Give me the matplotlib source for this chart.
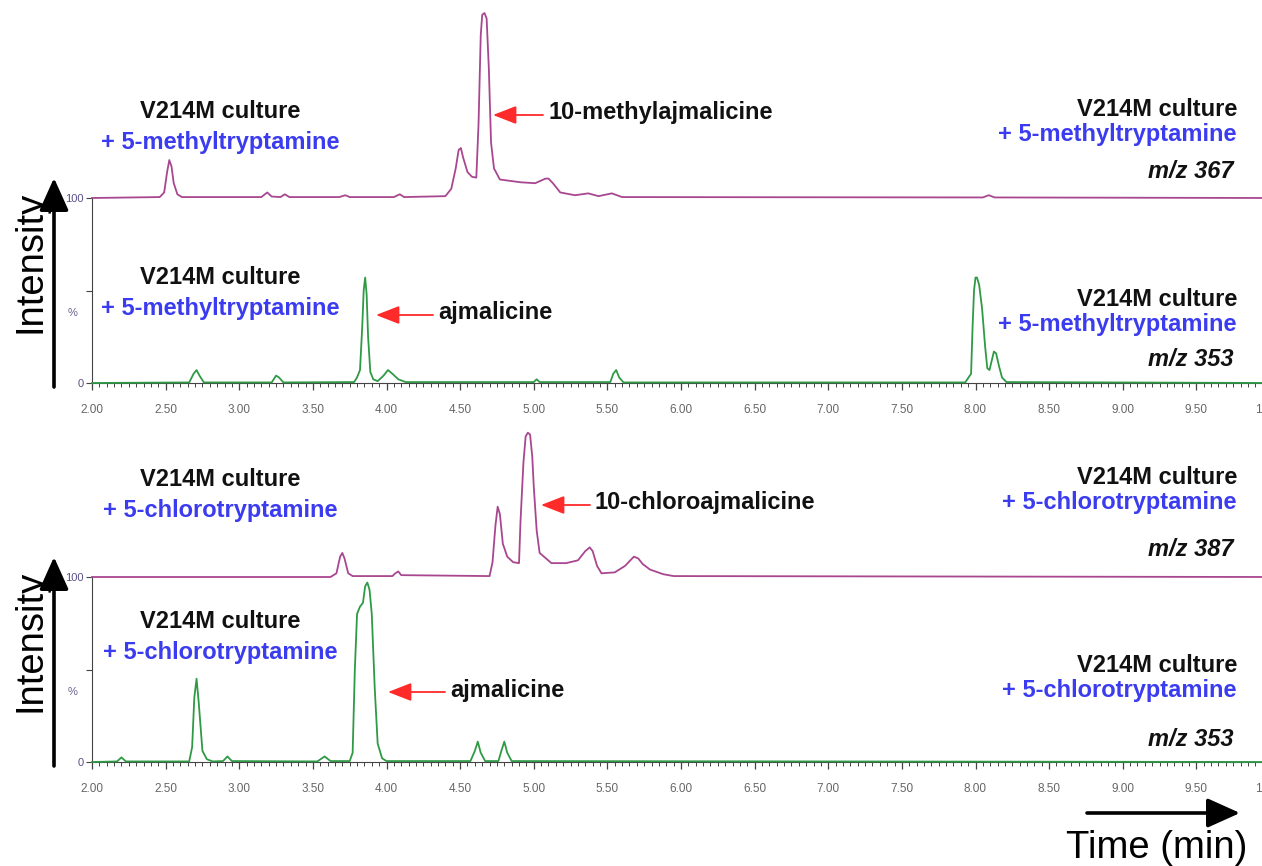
import numpy as np
import matplotlib
matplotlib.use("Agg")
import matplotlib.pyplot as plt
from matplotlib.ticker import MultipleLocator, FormatStrFormatter

plt.rcParams['font.family'] = ['Liberation Sans', 'DejaVu Sans']

# ---- data (time in min, intensity in % of panel scale) ----
# panel 1: V214M culture + 5-methyltryptamine
t_367 = [2.00, 2.46, 2.49, 2.51, 2.525, 2.54, 2.555, 2.58, 2.61, 3.15, 3.19, 3.22, 3.28, 3.31, 3.34,
         3.68, 3.72, 3.75, 4.05, 4.09, 4.12, 4.40, 4.44, 4.47, 4.49, 4.505, 4.52, 4.55, 4.58, 4.61, 4.625,
         4.64, 4.65, 4.665, 4.68, 4.695, 4.71, 4.73, 4.77, 4.91, 5.01, 5.08, 5.10, 5.13, 5.18, 5.28, 5.37,
         5.44, 5.53, 5.60, 8.05, 8.09, 8.13, 10.00]
y_367 = [0.0, 0.5, 3, 14, 20.5, 17, 8, 2, 0.5, 0.5, 3, 0.8, 0.5, 2, 0.5,
         0.5, 1.5, 0.5, 0.5, 2, 0.5, 1, 5, 16, 26, 27, 22, 14, 11.5, 11, 40,
         88, 99, 100, 97, 70, 30, 16, 10, 8.5, 8, 10.5, 10.5, 8, 3, 1.5, 2.5,
         1, 2.5, 0.5, 0.3, 1.5, 0.3, 0.0]

t_353a = [2.00, 2.66, 2.69, 2.71, 2.73, 2.76, 3.22, 3.25, 3.27, 3.30, 3.78, 3.80, 3.82, 3.835,
          3.845, 3.855, 3.865, 3.875, 3.89, 3.91, 3.94, 3.98, 4.01, 4.04, 4.08, 4.13, 5.00, 5.02,
          5.04, 5.52, 5.54, 5.56, 5.58, 5.61, 7.93, 7.97, 7.98, 7.99, 8.00, 8.01, 8.025, 8.045,
          8.065, 8.08, 8.095, 8.11, 8.125, 8.14, 8.16, 8.18, 8.21, 10.00]
y_353a = [0.0, 0.3, 5, 7, 4, 0.3, 0.3, 4, 3, 0.3, 0.5, 3, 7, 30,
          50, 57, 48, 25, 6, 2, 1, 4, 7, 5, 2, 0.5, 0.5, 2,
          0.5, 0.5, 5, 7, 3, 0.3, 0.3, 5, 30, 50, 57, 57, 53, 40,
          20, 8, 7, 12, 17, 16, 9, 3, 0.5, 0.0]

# panel 2: V214M culture + 5-chlorotryptamine
t_387 = [2.00, 3.62, 3.66, 3.685, 3.70, 3.715, 3.74, 3.77, 4.04, 4.06, 4.08, 4.10, 4.70, 4.72,
         4.74, 4.755, 4.77, 4.79, 4.82, 4.86, 4.90, 4.91, 4.93, 4.945, 4.96, 4.975, 4.99, 5.00,
         5.02, 5.04, 5.12, 5.22, 5.30, 5.35, 5.38, 5.40, 5.43, 5.46, 5.55, 5.62, 5.68, 5.71,
         5.74, 5.79, 5.88, 5.95, 10.00]
y_387 = [0.0, 0.0, 2, 11, 13, 10, 2, 0.5, 0.5, 2, 3, 1, 0.5, 8,
         28, 38, 34, 18, 11, 8, 7.5, 30, 62, 76, 78, 77, 65, 49,
         25, 13, 7.5, 7.5, 9, 14, 16, 14, 6, 2, 2.5, 6, 11, 10,
         7, 4, 1.5, 0.5, 0.0]

t_353b = [2.00, 2.17, 2.20, 2.23, 2.66, 2.68, 2.695, 2.71, 2.725, 2.75, 2.78, 2.82, 2.89, 2.92,
          2.95, 3.53, 3.58, 3.62, 3.75, 3.77, 3.785, 3.80, 3.82, 3.84, 3.855, 3.87, 3.885, 3.90,
          3.92, 3.94, 3.97, 4.00, 4.57, 4.60, 4.62, 4.64, 4.67, 4.76, 4.78, 4.80, 4.82, 4.85, 10.00]
y_353b = [0.0, 0.3, 2.5, 0.3, 0.3, 8, 35, 45, 32, 6, 1.5, 0.3, 0.5, 3,
          0.5, 0.3, 3, 0.5, 0.5, 5, 50, 80, 84, 86, 95, 97, 93, 80,
          40, 10, 2, 0.5, 0.5, 6, 11, 5, 0.5, 0.5, 6, 11, 5, 0.5, 0.0]

tick_times = np.arange(2.0, 10.01, 0.5)

MAGENTA = '#a8478f'
GREEN = '#2f9a45'
BLUE = '#3b3bef'
RED = '#ff2a2a'

W, H = 1262, 866
fig = plt.figure(figsize=(W / 100, H / 100), dpi=100)

PX_PER_UNIT = 1.85   # pixels per % unit


def make_panel(y_bottom, y_top):
    ax = fig.add_axes([92 / W, 1 - y_bottom / H, (1270 - 92) / W, (y_bottom - y_top) / H])
    ax.set_xlim(2.0, 10.0)
    ax.set_ylim(0, (y_bottom - y_top) / PX_PER_UNIT)
    ax.patch.set_alpha(0)
    for s in ['top', 'right']:
        ax.spines[s].set_visible(False)
    ax.spines['left'].set_bounds(0, 100)
    ax.spines['left'].set_color('#444444')
    ax.spines['bottom'].set_color('#444444')
    ax.set_yticks([0, 50, 100])
    ax.set_yticklabels(['0', '', '100'])
    ax.tick_params(axis='y', length=4, width=0.8, colors='#444444', labelsize=8,
                   labelcolor='#5a4f86', pad=2)
    ax.text(-0.012, 38, '%', transform=ax.get_yaxis_transform(), ha='right', va='center',
            fontsize=8, color='#6a6090')
    ax.set_xticks(tick_times)
    ax.xaxis.set_major_formatter(FormatStrFormatter('%.2f'))
    ax.xaxis.set_minor_locator(MultipleLocator(0.05))
    ax.tick_params(axis='x', which='major', length=5, width=0.9, colors='#444444',
                   labelsize=8.5, labelcolor='#666666', pad=10)
    ax.tick_params(axis='x', which='minor', length=3, width=0.7, colors='#444444')
    return ax


ax1 = make_panel(383, 0)
ax1.plot(t_353a, y_353a, color=GREEN, lw=1.3, clip_on=False, zorder=3)
ax1.plot(t_367, np.array(y_367) + 100, color=MAGENTA, lw=1.3, clip_on=False, zorder=3)

ax2 = make_panel(762, 410)
ax2.plot(t_353b, y_353b, color=GREEN, lw=1.3, clip_on=False, zorder=3)
ax2.plot(t_387, np.array(y_387) + 100, color=MAGENTA, lw=1.3, clip_on=False, zorder=3)

# overlay in pixel coordinates for labels and arrows
ov = fig.add_axes([0, 0, 1, 1])
ov.set_xlim(0, W)
ov.set_ylim(H, 0)
ov.axis('off')

FS = 17


def culture_label(x, y, additive, ha='center'):
    ov.text(x, y, 'V214M culture', ha=ha, va='center', fontsize=FS, fontweight='bold', color='#111111')
    ov.text(x, y + 31 if ha == 'center' else y + 25, '+ ' + additive, ha=ha, va='center',
            fontsize=FS, fontweight='bold', color=BLUE)


culture_label(220, 111, '5-methyltryptamine')
culture_label(220, 278, '5-methyltryptamine')
culture_label(220, 480, '5-chlorotryptamine')
culture_label(220, 622, '5-chlorotryptamine')

culture_label(1237, 110, '5-methyltryptamine', ha='right')
culture_label(1237, 300, '5-methyltryptamine', ha='right')
culture_label(1237, 477, '5-chlorotryptamine', ha='right')
culture_label(1237, 666, '5-chlorotryptamine', ha='right')

for y, mz in [(172, 'm/z 367'), (360, 'm/z 353'), (550, 'm/z 387'), (740, 'm/z 353')]:
    ov.text(1233, y, mz, ha='right', va='center', fontsize=FS, fontweight='bold',
            fontstyle='italic', color='#111111')

red_arrow = dict(arrowstyle='-|>,head_length=0.9,head_width=0.35', color=RED, lw=1.3,
                 shrinkA=0, shrinkB=0, mutation_scale=16)
for tail, tip, label, ty in [((543, 115), (493, 115), '10-methylajmalicine', 112),
                             ((433, 315), (376, 315), 'ajmalicine', 313),
                             ((590, 505), (541, 505), '10-chloroajmalicine', 503),
                             ((445, 692), (388, 692), 'ajmalicine', 690)]:
    ov.annotate('', xy=tip, xytext=tail, arrowprops=red_arrow)
    ov.text(tail[0] + 5, ty, label, ha='left', va='center', fontsize=FS, fontweight='bold',
            color='#111111')

black_arrow = dict(arrowstyle='-|>,head_length=1.0,head_width=0.45', color='black', lw=2.6,
                   shrinkA=0, shrinkB=0, mutation_scale=20)
ov.annotate('', xy=(54, 178), xytext=(54, 387), arrowprops=black_arrow)
ov.annotate('', xy=(54, 557), xytext=(54, 766), arrowprops=black_arrow)
ov.annotate('', xy=(1240, 813), xytext=(1087, 813), arrowprops=black_arrow)

ov.text(30, 262, 'Intensity', rotation=90, ha='center', va='center', fontsize=27.5, color='black')
ov.text(30, 641, 'Intensity', rotation=90, ha='center', va='center', fontsize=27.5, color='black')
ov.text(1157, 848, 'Time (min)', ha='center', va='center', fontsize=27.5, color='black')

fig.savefig('out.png', dpi=100, facecolor='white')
